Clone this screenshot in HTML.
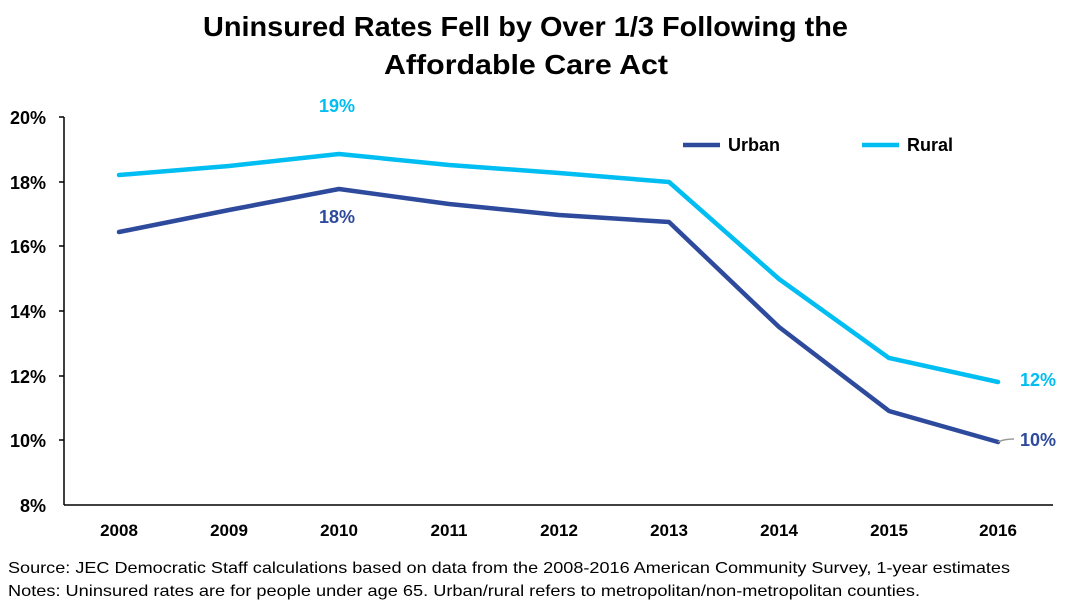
<!DOCTYPE html>
<html><head><meta charset="utf-8"><style>
body{margin:0;background:#fff;width:1077px;height:606px;overflow:hidden;font-family:"Liberation Sans",sans-serif}
</style></head><body>
<svg width="1077" height="606" xmlns="http://www.w3.org/2000/svg" font-family="Liberation Sans, sans-serif">
<text x="203" y="36" font-size="28" font-weight="bold" fill="#000" textLength="645" lengthAdjust="spacingAndGlyphs">Uninsured Rates Fell by Over 1/3 Following the</text>
<text x="384" y="74" font-size="28" font-weight="bold" fill="#000" textLength="284" lengthAdjust="spacingAndGlyphs">Affordable Care Act</text>
<g stroke="#000" stroke-width="1.5" fill="none">
<line x1="64" y1="117" x2="64" y2="505"/>
<line x1="64" y1="505" x2="1053" y2="505"/>
<line x1="59" y1="117" x2="64" y2="117"/><line x1="59" y1="182" x2="64" y2="182"/><line x1="59" y1="246" x2="64" y2="246"/><line x1="59" y1="311" x2="64" y2="311"/><line x1="59" y1="376" x2="64" y2="376"/><line x1="59" y1="440" x2="64" y2="440"/>
</g>
<g font-size="18" font-weight="bold" text-anchor="end" fill="#000">
<text x="46" y="124">20%</text><text x="46" y="189">18%</text><text x="46" y="253">16%</text><text x="46" y="318">14%</text><text x="46" y="383">12%</text><text x="46" y="447">10%</text><text x="46" y="512">8%</text>
</g>
<g font-size="17" font-weight="bold" text-anchor="middle" fill="#000">
<text x="119" y="536">2008</text><text x="229" y="536">2009</text><text x="339" y="536">2010</text><text x="449" y="536">2011</text><text x="559" y="536">2012</text><text x="669" y="536">2013</text><text x="779" y="536">2014</text><text x="889" y="536">2015</text><text x="998" y="536">2016</text>
</g>
<polyline fill="none" stroke="#00bdf2" stroke-width="4.5" stroke-linejoin="round" stroke-linecap="round" points="119,175 229,166 339,154 449,165 559,173 669,182 779,279 889,358 998,382"/>
<polyline fill="none" stroke="#2e4a9c" stroke-width="4.5" stroke-linejoin="round" stroke-linecap="round" points="119,232 229,210 339,189 449,204 559,215 669,222 779,327 889,411 998,442"/>
<path d="M998,442 q6,-3 16,-3" stroke="#999" stroke-width="1.5" fill="none"/>
<g font-size="18" font-weight="bold">
<text x="337" y="112" text-anchor="middle" fill="#00bdf2">19%</text>
<text x="337" y="223" text-anchor="middle" fill="#2e4a9c">18%</text>
<text x="1020" y="386" fill="#00bdf2">12%</text>
<text x="1020" y="446" fill="#2e4a9c">10%</text>
<line x1="683" y1="145" x2="720" y2="145" stroke="#2e4a9c" stroke-width="4.5"/>
<text x="728" y="151" fill="#000">Urban</text>
<line x1="862" y1="145" x2="899" y2="145" stroke="#00bdf2" stroke-width="4.5"/>
<text x="907" y="151" fill="#000">Rural</text>
</g>
<g font-size="16" fill="#000">
<text x="8" y="573" textLength="1002" lengthAdjust="spacingAndGlyphs">Source: JEC Democratic Staff calculations based on data from the 2008-2016 American Community Survey, 1-year estimates</text>
<text x="8" y="596" textLength="912" lengthAdjust="spacingAndGlyphs">Notes: Uninsured rates are for people under age 65. Urban/rural refers to metropolitan/non-metropolitan counties.</text>
</g>
</svg>
</body></html>
